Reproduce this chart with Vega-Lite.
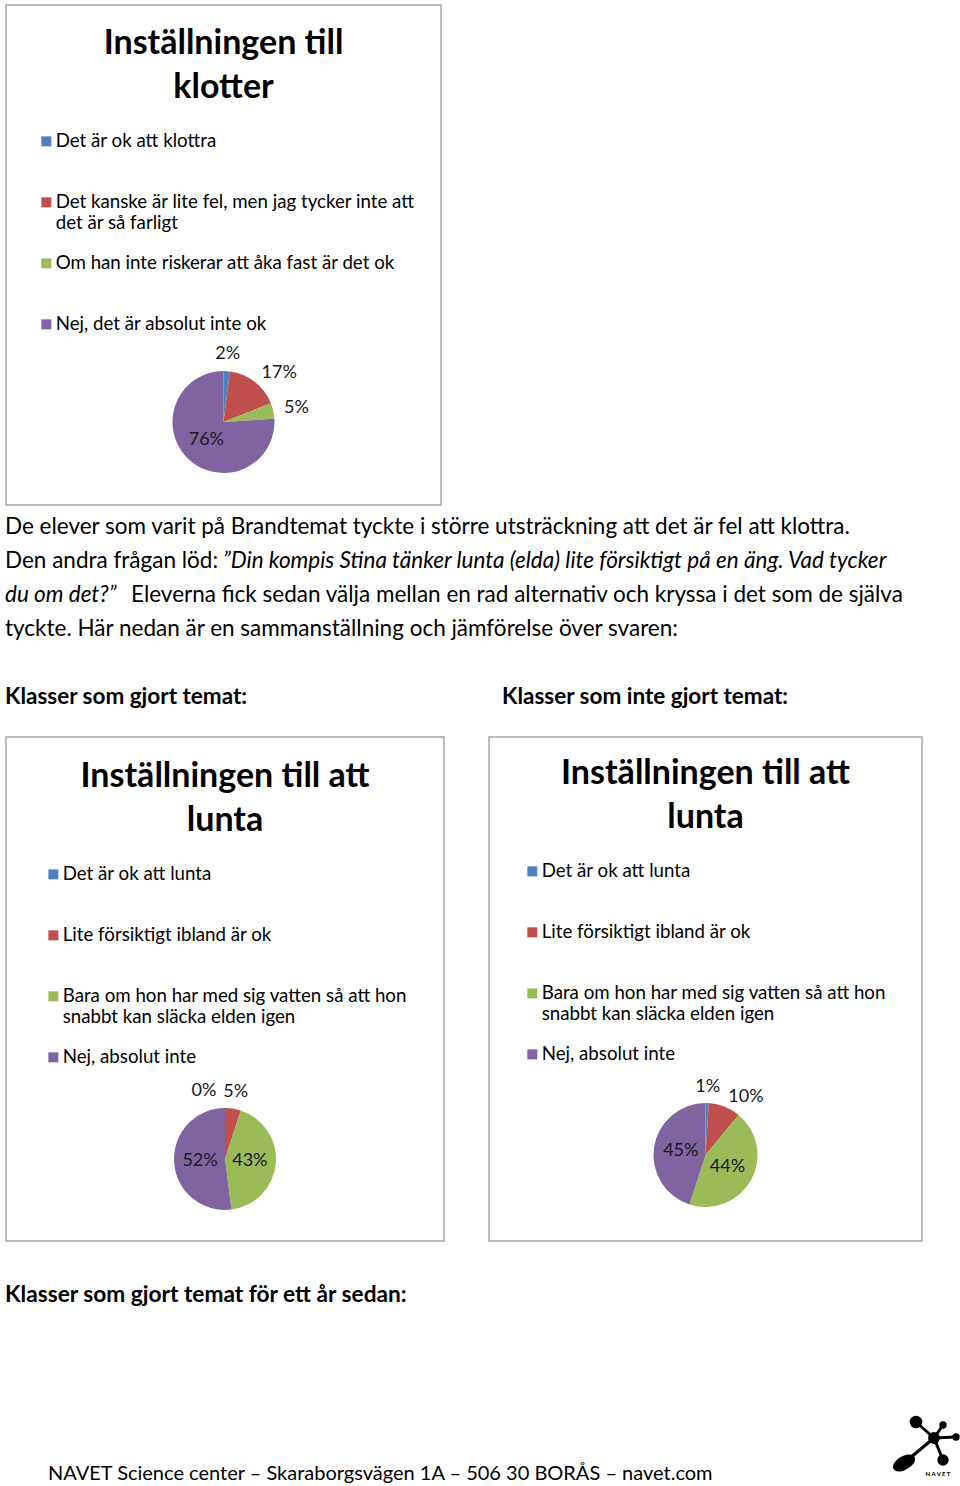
{
  "$schema": "https://vega.github.io/schema/vega-lite/v6.json",
  "background": "white",
  "padding": {"left": 5, "top": 4, "right": 0, "bottom": 0},
  "config": {
    "font": "Lato",
    "view": {"stroke": null},
    "title": {"font": "Lato", "color": "black"},
    "text": {"font": "Lato", "color": "black"},
    "legend": {
      "orient": "none",
      "padding": 0,
      "gridAlign": "all",
      "rowPadding": 21,
      "symbolType": "square",
      "symbolSize": 100,
      "symbolStrokeWidth": 0,
      "labelFont": "Lato",
      "labelFontSize": 18.7,
      "labelColor": "black",
      "labelOffset": 0,
      "labelLimit": 420
    }
  },
  "datasets": {
    "klotter": [
      {"i": 1, "svar": "Det är ok att klottra", "v": 2, "lbl": "2%"},
      {"i": 2, "svar": "Det kanske är lite fel, men jag tycker inte att det är så farligt", "v": 17, "lbl": "17%"},
      {"i": 3, "svar": "Om han inte riskerar att åka fast är det ok", "v": 5, "lbl": "5%"},
      {"i": 4, "svar": "Nej, det är absolut inte ok", "v": 76, "lbl": "76%"}
    ],
    "lunta_gjort": [
      {"i": 1, "svar": "Det är ok att lunta", "v": 0, "lbl": "0%"},
      {"i": 2, "svar": "Lite försiktigt ibland är ok", "v": 5, "lbl": "5%"},
      {"i": 3, "svar": "Bara om hon har med sig vatten så att hon snabbt kan släcka elden igen", "v": 43, "lbl": "43%"},
      {"i": 4, "svar": "Nej, absolut inte", "v": 52, "lbl": "52%"}
    ],
    "lunta_inte": [
      {"i": 1, "svar": "Det är ok att lunta", "v": 1, "lbl": "1%"},
      {"i": 2, "svar": "Lite försiktigt ibland är ok", "v": 10, "lbl": "10%"},
      {"i": 3, "svar": "Bara om hon har med sig vatten så att hon snabbt kan släcka elden igen", "v": 44, "lbl": "44%"},
      {"i": 4, "svar": "Nej, absolut inte", "v": 45, "lbl": "45%"}
    ],
    "para": [
      {"line": 0, "slot": "a", "style": "normal", "text": "De elever som varit på Brandtemat tyckte i större utsträckning att det är fel att klottra."},
      {"line": 1, "slot": "a", "style": "normal", "text": "Den andra frågan löd: "},
      {"line": 1, "slot": "b", "style": "italic", "text": "”Din kompis Stina tänker lunta (elda) lite försiktigt på en äng. Vad tycker"},
      {"line": 2, "slot": "a", "style": "italic", "text": "du om det?”"},
      {"line": 2, "slot": "c", "style": "normal", "text": "Eleverna fick sedan välja mellan en rad alternativ och kryssa i det som de själva"},
      {"line": 3, "slot": "a", "style": "normal", "text": "tyckte. Här nedan är en sammanställning och jämförelse över svaren:"},
      {"line": 5, "slot": "a", "style": "bold", "text": "Klasser som gjort temat:"},
      {"line": 5, "slot": "d", "style": "bold", "text": "Klasser som inte gjort temat:"}
    ],
    "bottom": [
      {"line": 0, "slot": "a", "style": "bold", "text": "Klasser som gjort temat för ett år sedan:"},
      {"line": 1, "slot": "e", "style": "normal", "text": "NAVET Science center – Skaraborgsvägen 1A – 506 30 BORÅS – navet.com"}
    ],
    "logo_nodes": [
      {"node": "hub", "lx": 43, "ly": 28, "area": 140},
      {"node": "uppe vänster", "lx": 25, "ly": 12, "area": 160},
      {"node": "uppe", "lx": 52, "ly": 15, "area": 55},
      {"node": "höger", "lx": 65, "ly": 27, "area": 55},
      {"node": "nere höger", "lx": 52, "ly": 50, "area": 130}
    ],
    "logo_edges": [
      {"lx": 43, "ly": 28, "lx2": 25, "ly2": 12},
      {"lx": 43, "ly": 28, "lx2": 52, "ly2": 15},
      {"lx": 43, "ly": 28, "lx2": 65, "ly2": 27},
      {"lx": 43, "ly": 28, "lx2": 52, "ly2": 50},
      {"lx": 43, "ly": 28, "lx2": 13, "ly2": 53}
    ],
    "logo_big": [
      {"lx": 13, "ly": 53}
    ],
    "logo_text": [
      {"lx": 47, "ly": 64, "t": "N A V E T"}
    ]
  },
  "spacing": 0,
  "resolve": {"scale": {"color": "independent"}, "legend": {"color": "independent"}},
  "vconcat": [
    {
      "width": 435,
      "height": 500,
      "view": {"stroke": "#a6a6a6", "strokeWidth": 1.5},
      "title": {"text": ["Inställningen till", "klotter"], "fontSize": 34, "fontWeight": "bold", "lineHeight": 44, "anchor": "middle", "offset": -100},
      "data": {"name": "klotter"},
      "encoding": {
        "theta": {"field": "v", "type": "quantitative", "stack": true},
        "order": {"field": "i", "type": "quantitative"}
      },
      "layer": [
        {
          "mark": {"type": "arc", "outerRadius": 51, "yOffset": 167},
          "encoding": {
            "color": {
              "field": "svar", "type": "nominal",
              "scale": {"domain": ["Det är ok att klottra", "Det kanske är lite fel, men jag tycker inte att det är så farligt", "Om han inte riskerar att åka fast är det ok", "Nej, det är absolut inte ok"], "range": ["#4F81BD", "#C0504D", "#9BBB59", "#8064A2"]},
              "legend": {"title": null, "legendX": 31, "legendY": 127, "labelExpr": "datum.label == 'Det kanske är lite fel, men jag tycker inte att det är så farligt' ? ['Det kanske är lite fel, men jag tycker inte att', 'det är så farligt'] : datum.label"}
            }
          }
        },
        {
          "mark": {"type": "text", "yOffset": 167, "fontSize": 18, "color": "#1a1a1a",
            "radius": {"expr": "datum.v >= 30 ? 25 : (sin(PI * (datum.v_start + datum.v_end) / 100) > 0.3 ? 62 : 68)"},
            "align": {"expr": "datum.v < 30 && sin(PI * (datum.v_start + datum.v_end) / 100) > 0.3 ? 'left' : 'center'"},
            "dx": {"expr": "datum.v == 0 ? -21 : 0"}},
          "encoding": {"detail": {"field": "svar"}, "text": {"field": "lbl"}}
        }
      ]
    },
    {
      "width": 955,
      "height": 230,
      "data": {"name": "para"},
      "mark": {
        "type": "text", "align": "left", "baseline": "middle", "fontSize": 22.5, "x": 0,
        "fontStyle": {"expr": "datum.style == 'italic' ? 'italic' : 'normal'"},
        "fontWeight": {"expr": "datum.style == 'bold' ? 'bold' : 'normal'"},
        "dx": {"expr": "datum.slot == 'b' ? 217 : datum.slot == 'c' ? 125 : datum.slot == 'd' ? 496 : -1"}
      },
      "encoding": {
        "y": {"field": "line", "type": "quantitative", "scale": {"domain": [0, 5], "range": [21, 191]}, "axis": null},
        "text": {"field": "text"}
      }
    },
    {
      "spacing": 43,
      "resolve": {"scale": {"color": "independent"}, "legend": {"color": "independent"}},
      "hconcat": [
        {
          "width": 438,
          "height": 504,
          "view": {"stroke": "#a6a6a6", "strokeWidth": 1.5},
          "title": {"text": ["Inställningen till att", "lunta"], "fontSize": 34, "fontWeight": "bold", "lineHeight": 44, "anchor": "middle", "offset": -101},
          "data": {"name": "lunta_gjort"},
          "encoding": {
            "theta": {"field": "v", "type": "quantitative", "stack": true},
            "order": {"field": "i", "type": "quantitative"}
          },
          "layer": [
            {
              "mark": {"type": "arc", "outerRadius": 51, "yOffset": 170},
              "encoding": {
                "color": {
                  "field": "svar", "type": "nominal",
                  "scale": {"domain": ["Det är ok att lunta", "Lite försiktigt ibland är ok", "Bara om hon har med sig vatten så att hon snabbt kan släcka elden igen", "Nej, absolut inte"], "range": ["#4F81BD", "#C0504D", "#9BBB59", "#8064A2"]},
                  "legend": {"title": null, "legendX": 38, "legendY": 128, "labelExpr": "datum.label == 'Bara om hon har med sig vatten så att hon snabbt kan släcka elden igen' ? ['Bara om hon har med sig vatten så att hon', 'snabbt kan släcka elden igen'] : datum.label"}
                }
              }
            },
            {
              "mark": {"type": "text", "yOffset": 170, "fontSize": 18, "color": "#1a1a1a",
                "radius": {"expr": "datum.v >= 30 ? 25 : (sin(PI * (datum.v_start + datum.v_end) / 100) > 0.3 ? 62 : 68)"},
                "align": {"expr": "datum.v < 30 && sin(PI * (datum.v_start + datum.v_end) / 100) > 0.3 ? 'left' : 'center'"},
                "dx": {"expr": "datum.v == 0 ? -21 : 0"}},
              "encoding": {"detail": {"field": "svar"}, "text": {"field": "lbl"}}
            }
          ]
        },
        {
          "width": 433,
          "height": 504,
          "view": {"stroke": "#a6a6a6", "strokeWidth": 1.5},
          "title": {"text": ["Inställningen till att", "lunta"], "fontSize": 34, "fontWeight": "bold", "lineHeight": 44, "anchor": "middle", "offset": -98},
          "data": {"name": "lunta_inte"},
          "encoding": {
            "theta": {"field": "v", "type": "quantitative", "stack": true},
            "order": {"field": "i", "type": "quantitative"}
          },
          "layer": [
            {
              "mark": {"type": "arc", "outerRadius": 52, "yOffset": 166},
              "encoding": {
                "color": {
                  "field": "svar", "type": "nominal",
                  "scale": {"domain": ["Det är ok att lunta", "Lite försiktigt ibland är ok", "Bara om hon har med sig vatten så att hon snabbt kan släcka elden igen", "Nej, absolut inte"], "range": ["#4F81BD", "#C0504D", "#9BBB59", "#8064A2"]},
                  "legend": {"title": null, "legendX": 34, "legendY": 125, "labelExpr": "datum.label == 'Bara om hon har med sig vatten så att hon snabbt kan släcka elden igen' ? ['Bara om hon har med sig vatten så att hon', 'snabbt kan släcka elden igen'] : datum.label"}
                }
              }
            },
            {
              "mark": {"type": "text", "yOffset": 166, "fontSize": 18, "color": "#1a1a1a",
                "radius": {"expr": "datum.v >= 30 ? 25 : (sin(PI * (datum.v_start + datum.v_end) / 100) > 0.3 ? 62 : 68)"},
                "align": {"expr": "datum.v < 30 && sin(PI * (datum.v_start + datum.v_end) / 100) > 0.3 ? 'left' : 'center'"}},
              "encoding": {"detail": {"field": "svar"}, "text": {"field": "lbl"}}
            }
          ]
        }
      ]
    },
    {
      "width": 955,
      "height": 246,
      "resolve": {"scale": {"x": "independent", "y": "independent"}},
      "layer": [
        {
          "data": {"name": "bottom"},
          "mark": {
            "type": "text", "align": "left", "baseline": "middle", "x": 0,
            "fontSize": {"expr": "datum.slot == 'e' ? 20 : 22.7"},
            "fontWeight": {"expr": "datum.style == 'bold' ? 'bold' : 'normal'"},
            "dx": {"expr": "datum.slot == 'e' ? 42 : -1"}
          },
          "encoding": {
            "y": {"field": "line", "type": "quantitative", "scale": {"domain": [0, 1], "range": [53, 232]}, "axis": null},
            "text": {"field": "text"}
          }
        },
        {
          "data": {"name": "logo_edges"},
          "mark": {"type": "rule", "color": "black", "strokeWidth": 3},
          "encoding": {
            "x": {"field": "lx", "type": "quantitative", "scale": {"domain": [0, 70], "range": [885, 955]}, "axis": null},
            "y": {"field": "ly", "type": "quantitative", "scale": {"domain": [0, 70], "range": [168, 238]}, "axis": null},
            "x2": {"field": "lx2"},
            "y2": {"field": "ly2"}
          }
        },
        {
          "data": {"name": "logo_nodes"},
          "mark": {"type": "point", "shape": "circle", "filled": true, "color": "black", "opacity": 1},
          "encoding": {
            "x": {"field": "lx", "type": "quantitative", "scale": {"domain": [0, 70], "range": [885, 955]}, "axis": null},
            "y": {"field": "ly", "type": "quantitative", "scale": {"domain": [0, 70], "range": [168, 238]}, "axis": null},
            "size": {"field": "area", "type": "quantitative", "scale": null, "legend": null}
          }
        },
        {
          "data": {"name": "logo_big"},
          "mark": {"type": "point", "shape": "M -0.866 0.5 A 1 0.55 -30 1 1 0.866 -0.5 A 1 0.55 -30 1 1 -0.866 0.5 Z", "filled": true, "color": "black", "opacity": 1, "size": 600},
          "encoding": {
            "x": {"field": "lx", "type": "quantitative", "scale": {"domain": [0, 70], "range": [885, 955]}, "axis": null},
            "y": {"field": "ly", "type": "quantitative", "scale": {"domain": [0, 70], "range": [168, 238]}, "axis": null}
          }
        },
        {
          "data": {"name": "logo_text"},
          "mark": {"type": "text", "fontSize": 6, "fontWeight": "bold", "color": "black"},
          "encoding": {
            "x": {"field": "lx", "type": "quantitative", "scale": {"domain": [0, 70], "range": [885, 955]}, "axis": null},
            "y": {"field": "ly", "type": "quantitative", "scale": {"domain": [0, 70], "range": [168, 238]}, "axis": null},
            "text": {"field": "t"}
          }
        }
      ]
    }
  ]
}
